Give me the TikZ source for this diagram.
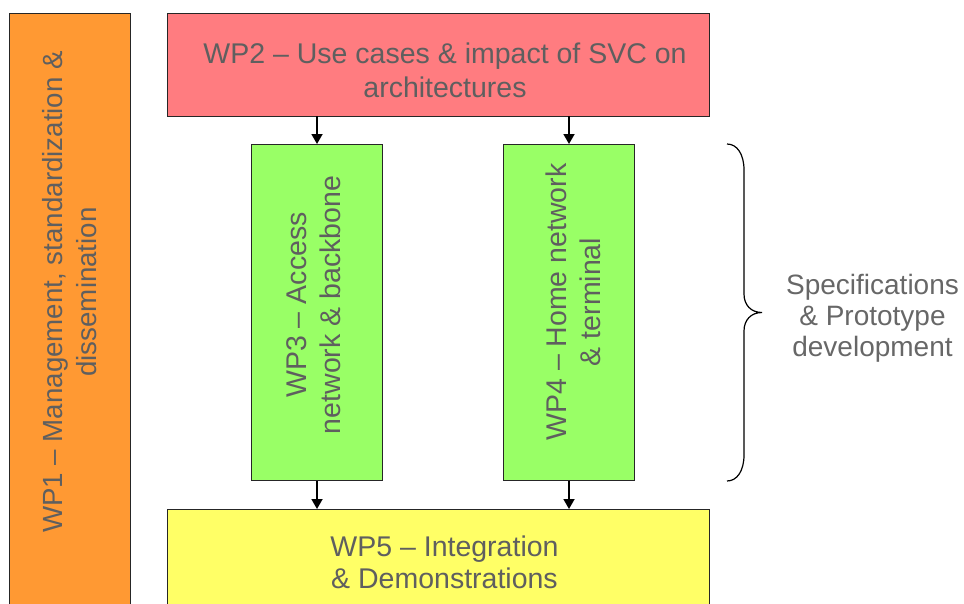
\documentclass[tikz,border=0pt]{standalone}
\usepackage{fontspec}
\setmainfont{Liberation Sans}
\usetikzlibrary{arrows.meta}

\definecolor{wporange}{HTML}{FF9933}
\definecolor{wpred}{HTML}{FF7C80}
\definecolor{wpgreen}{HTML}{99FF66}
\definecolor{wpyellow}{HTML}{FFFF66}
\definecolor{textgray}{HTML}{5F5F5F}
\definecolor{notegray}{HTML}{676767}

\tikzset{
  box/.style={draw=black!85, line width=0.9pt, inner sep=0pt, outer sep=0pt, anchor=north west},
  txt/.style={text=textgray, font=\fontsize{28.5}{34}\selectfont, align=center, inner sep=0pt},
  flow/.style={-{Triangle[length=10pt,width=11pt]}, line width=1.8pt, black},
  bracestyle/.style={line width=1.2pt, black},
}

\begin{document}
\begin{tikzpicture}[x=1pt, y=-1pt]
  \useasboundingbox (0,0) rectangle (964,603);
  \clip (0,0) rectangle (964,603);

  % work package boxes
  \node[box, fill=wporange, minimum width=121pt,   minimum height=640pt]   (wp1) at (9,13.7) {};
  \node[box, fill=wpred,    minimum width=541.7pt, minimum height=102.6pt] (wp2) at (167.3,13.7) {};
  \node[box, fill=wpgreen,  minimum width=130.6pt, minimum height=336.7pt] (wp3) at (251.7,144) {};
  \node[box, fill=wpgreen,  minimum width=130.6pt, minimum height=336.7pt] (wp4) at (503.7,144) {};
  \node[box, fill=wpyellow, minimum width=541.3pt, minimum height=140pt]   (wp5) at (167.7,509) {};

  % labels
  \node[txt, rotate=90, font=\fontsize{27.7}{34}\selectfont] (t1) at (69.8,292) {WP1 – Management, standardization \&\\dissemination};
  \node[txt] (t2) at (445,70.1) {WP2 – Use cases \& impact of SVC on\\architectures};
  \node[txt, rotate=90] (t3) at (313.8,305) {WP3 – Access\\network \& backbone};
  \node[txt, rotate=90] (t4) at (573.8,302) {WP4 – Home network\\\& terminal};
  \node[txt, font=\fontsize{28.5}{32}\selectfont] (t5) at (444.5,562.5) {WP5 – Integration\\\& Demonstrations};
  \node[txt, text=notegray, font=\fontsize{28}{31}\selectfont] (t6) at (872.5,318.7) {Specifications\\\& Prototype\\development};

  % flow between work packages
  \draw[flow] (wp2.south -| wp3.north) -- (wp3.north);
  \draw[flow] (wp2.south -| wp4.north) -- (wp4.north);
  \draw[flow] (wp3.south) -- (wp5.north -| wp3.south);
  \draw[flow] (wp4.south) -- (wp5.north -| wp4.south);

  % curly brace grouping WP3 and WP4
  \coordinate (btop) at (727,144);
  \coordinate (btip) at (762,312.5);
  \coordinate (bbot) at (727,481);
  \draw[bracestyle] (btop) .. controls (737,144) and (744,154) .. (744,170)
    -- (744,294) .. controls (744,305) and (751,312.5) .. (btip)
    .. controls (751,312.5) and (744,320) .. (744,331)
    -- (744,455) .. controls (744,471) and (737,481) .. (bbot);
\end{tikzpicture}
\end{document}
